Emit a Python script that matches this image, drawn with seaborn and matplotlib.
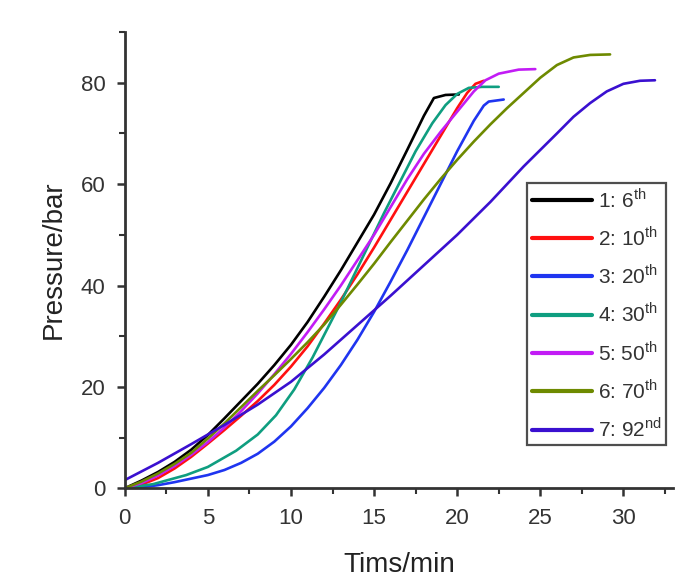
import matplotlib
matplotlib.use("Agg")
import matplotlib.pyplot as plt
import seaborn as sns
import pandas as pd

# cycle data (time in min, pressure in bar)
t1 = [0, 1, 2, 3, 4, 5, 6, 7, 8, 9, 10, 11, 12, 13, 14, 15, 16, 17, 18, 18.6, 19.3, 20.1]
p1 = [0, 1.5, 3.2, 5.2, 7.6, 10.5, 13.8, 17.2, 20.6, 24.3, 28.3, 32.8, 37.8, 43, 48.5, 54,
      60.2, 66.8, 73.5, 77, 77.6, 77.7]

t2 = [0, 1, 2, 3, 4, 5, 6, 7, 8, 9, 10, 11, 12, 13, 14, 15, 16, 17, 18, 19, 20, 20.6, 21.1, 21.6]
p2 = [0, 0.7, 2, 3.9, 6.2, 8.8, 11.5, 14.3, 17.2, 20.4, 24, 28, 32.5, 37.2, 42.2, 47.5, 53,
      58.5, 64, 69.5, 75, 78, 79.8, 80.4]

t3 = [0, 1, 2, 3, 4, 5, 6, 7, 8, 9, 10, 11, 12, 13, 14, 15, 16, 17, 18, 19, 20, 21, 21.6,
      21.9, 22.8]
p3 = [0, 0.2, 0.6, 1.2, 1.9, 2.6, 3.6, 5, 6.8, 9.2, 12.2, 15.8, 19.8, 24.3, 29.3, 34.8, 40.8,
      47, 53.5, 60, 66.5, 72.5, 75.5, 76.3, 76.7]

t4 = [0, 1.7, 3.7, 5, 6.7, 8, 9.1, 10.2, 11.3, 12.9, 14.2, 15.6, 17.5, 18.5, 19.3, 20, 20.7,
      21.5, 22.5]
p4 = [0, 0.8, 2.6, 4.2, 7.4, 10.6, 14.4, 19.5, 25.8, 36, 44.8, 54.3, 66.5, 72, 75.6, 77.8, 79,
      79.2, 79.2]

t5 = [0, 1, 2, 3, 4, 5, 6, 7, 8, 9, 10, 11, 12, 13, 14, 15, 16, 17, 18, 19, 20, 21, 21.7,
      22.5, 23.7, 24.7]
p5 = [0, 1, 2.5, 4.4, 6.6, 9.1, 12, 15.2, 18.7, 22.5, 26.5, 30.8, 35.3, 40, 45, 50, 55.5, 61,
      66, 70.3, 74.3, 78.3, 80.5, 81.8, 82.6, 82.7]

t6 = [0, 1, 2, 3, 4, 5, 6, 7, 8, 9, 10, 11, 12, 13, 14, 15, 16, 17, 18, 19, 20, 21, 22, 23,
      24, 25, 26, 27, 28, 29.2]
p6 = [0, 1.3, 2.9, 4.8, 7, 9.8, 12.8, 16, 19.2, 22.3, 25.5, 28.8, 32.3, 36.2, 40.2, 44.3,
      48.6, 52.8, 57, 61, 64.8, 68.4, 71.8, 75, 78, 81, 83.5, 85, 85.5, 85.6]

t7 = [0, 2, 4, 6, 8, 10, 12, 14, 16, 18, 20, 22, 24, 26, 27, 28, 29, 30, 31, 31.9]
p7 = [1.6, 5, 8.7, 12.5, 16.5, 21, 26.4, 32.2, 38, 44, 50, 56.5, 63.5, 70, 73.3, 76, 78.3,
      79.8, 80.4, 80.5]

labels = ["1: 6$^{\\mathregular{th}}$", "2: 10$^{\\mathregular{th}}$", "3: 20$^{\\mathregular{th}}$",
          "4: 30$^{\\mathregular{th}}$", "5: 50$^{\\mathregular{th}}$", "6: 70$^{\\mathregular{th}}$",
          "7: 92$^{\\mathregular{nd}}$"]
colors = ["#000000", "#ff1010", "#1f35f0", "#0f9e80", "#c21cf5", "#6e8a00", "#3a10d0"]

times = [t1, t2, t3, t4, t5, t6, t7]
pressures = [p1, p2, p3, p4, p5, p6, p7]

frames = []
for lab, t, p in zip(labels, times, pressures):
    frames.append(pd.DataFrame({"time": t, "pressure": p, "cycle": lab}))
df = pd.concat(frames, ignore_index=True)

sns.set_theme(style="ticks")
plt.rcParams["font.family"] = ["Liberation Sans", "DejaVu Sans"]
plt.rcParams["mathtext.fontset"] = "custom"
plt.rcParams["mathtext.rm"] = "Liberation Sans"

fig = plt.figure(figsize=(6.78, 5.84), dpi=100)
ax = fig.add_axes([0.184, 0.164, 0.809, 0.781])

sns.lineplot(data=df, x="time", y="pressure", hue="cycle", hue_order=labels,
             palette=colors, linewidth=1.9, sort=False, estimator=None, ax=ax, legend=False)
for ln in ax.get_lines():
    ln.set_solid_joinstyle("round")

ax.set_xlim(0, 33)
ax.set_ylim(0, 90)
ax.set_xticks([0, 5, 10, 15, 20, 25, 30])
ax.set_xticks([2.5, 7.5, 12.5, 17.5, 22.5, 27.5, 32.5], minor=True)
ax.set_yticks([0, 20, 40, 60, 80])
ax.set_yticks([10, 30, 50, 70, 90], minor=True)

ax.set_xlabel("Tims/min", fontsize=20, color="#222222", labelpad=17)
ax.set_ylabel("Pressure/bar", fontsize=20, color="#222222", labelpad=10)
ax.tick_params(axis="both", which="major", labelsize=16, labelcolor="#333333",
               length=6, width=1.8, color="#333333", direction="out", pad=8)
ax.tick_params(axis="both", which="minor", length=4, width=1.5, color="#333333", direction="out")
for side in ["left", "bottom"]:
    ax.spines[side].set_linewidth(2)
    ax.spines[side].set_color("#333333")
sns.despine(ax=ax)

handles = [plt.Line2D([], [], color=c, linewidth=3) for c in colors]
leg = ax.legend(handles, labels, loc="upper left", bbox_to_anchor=(0.734, 0.669),
                borderaxespad=0, fontsize=15, handlelength=2.9, handletextpad=0.3,
                labelspacing=0.69, borderpad=0.2, frameon=True, fancybox=False)
leg.get_frame().set_edgecolor("#222222")
leg.get_frame().set_linewidth(1.6)
for txt in leg.get_texts():
    txt.set_color("#333333")

fig.savefig("out.png", dpi=100)
plt.close(fig)
